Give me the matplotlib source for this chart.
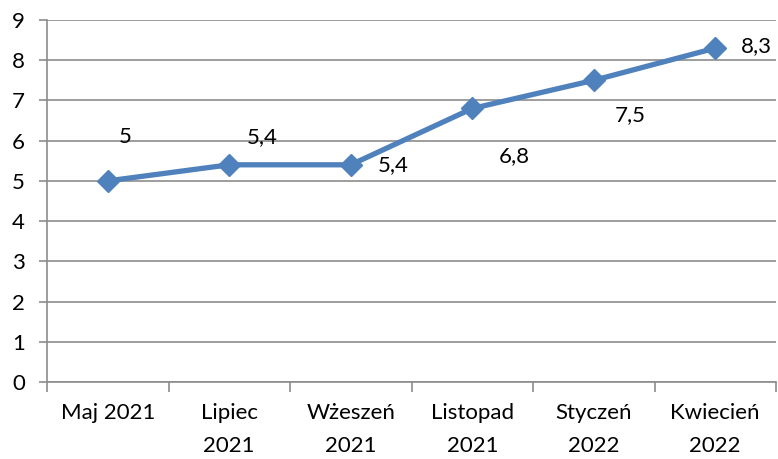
import matplotlib
matplotlib.use("Agg")
import matplotlib.pyplot as plt

categories = ["Maj 2021", "Lipiec\n2021", "Wżeszeń\n2021", "Listopad\n2021", "Styczeń\n2022", "Kwiecień\n2022"]
values = [5, 5.4, 5.4, 6.8, 7.5, 8.3]
value_labels = ["5", "5,4", "5,4", "6,8", "7,5", "8,3"]
label_offsets = [(17, 44), (33, 28), (42, 0), (42, -48), (36, -35), (41, 2)]

plt.rcParams['font.family'] = ['Lato', 'DejaVu Sans']
fig = plt.figure(figsize=(7.78, 4.59), dpi=100)
ax = fig.add_axes([47/778, 77/459, (776-47)/778, (382-20)/459])

x = list(range(len(categories)))
ax.plot(x, values, color="#4F81BD", lw=3.8, marker="D", ms=11, zorder=3, solid_joinstyle="round")
for xi, v, lab, off in zip(x, values, value_labels, label_offsets):
    ax.annotate(lab, (xi, v), xytext=off, textcoords="offset pixels",
                ha="center", va="center", fontsize=16, color="black")

ax.set_xlim(-0.5, len(categories) - 0.5)
ax.set_ylim(0, 9)
ax.set_yticks(range(0, 10))
ax.yaxis.grid(True, color="#8C8C8C", lw=1.2)
ax.set_axisbelow(True)
for s in ["top", "right"]:
    ax.spines[s].set_visible(False)
for s in ["left", "bottom"]:
    ax.spines[s].set_color("#8C8C8C")
    ax.spines[s].set_linewidth(1.2)

ax.set_xticks([i + 0.5 for i in range(-1, len(categories))])
ax.set_xticklabels([])
ax.set_xticks(x, minor=True)
ax.set_xticklabels(categories, minor=True, fontsize=16, linespacing=1.85, va="top")
ax.tick_params(axis="x", which="major", length=7, width=1.2, color="#8C8C8C", direction="out")
ax.tick_params(axis="x", which="minor", length=0, pad=15)
ax.tick_params(axis="y", length=6, width=1.2, color="#8C8C8C", labelsize=16, pad=10)

fig.savefig("out.png", dpi=100)
